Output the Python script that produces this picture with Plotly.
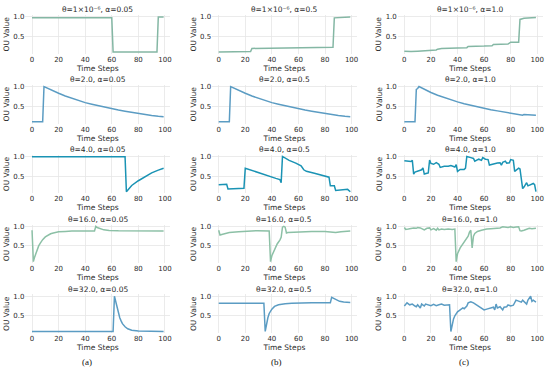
import plotly.graph_objects as go

# ---------------- data ----------------
THETA_LABELS = ["θ=1×10⁻⁶", "θ=2.0", "θ=4.0", "θ=16.0", "θ=32.0"]
ALPHA_LABELS = ["α=0.05", "α=0.5", "α=1.0"]
PANEL_LABELS = ["(a)", "(b)", "(c)"]
X_TICKS = [0, 20, 40, 60, 80, 100]
Y_TICKS = [0.5, 1.0]
Y_TICK_TEXT = ["0.5", "1.0"]
X_LABEL = "Time Steps"
Y_LABEL = "OU Value"

# row 1: theta = 1e-6
t_r1c1 = [0, 60, 61, 94, 95, 99]
v_r1c1 = [0.97, 0.97, 0.10, 0.10, 0.99, 0.99]
t_r1c2 = [0, 24, 25, 48, 49, 86, 87, 99]
v_r1c2 = [0.10, 0.11, 0.19, 0.20, 0.21, 0.22, 0.97, 0.99]
t_r1c3 = [0, 5, 10, 20, 24, 25, 27, 28, 40, 47, 48, 55, 60, 66, 67, 78, 79, 80, 86, 87, 90, 95, 99]
v_r1c3 = [0.12, 0.11, 0.12, 0.14, 0.15, 0.17, 0.18, 0.19, 0.20, 0.21, 0.24, 0.24, 0.25, 0.26, 0.29, 0.30, 0.33, 0.35, 0.35, 0.93, 0.96, 0.97, 0.98]

# row 2: theta = 2.0
t_r2c1 = [0, 8, 9, 15, 20, 25, 30, 35, 40, 45, 50, 55, 60, 65, 70, 75, 80, 85, 90, 95, 99]
v_r2c1 = [0.10, 0.10, 1.00, 0.90, 0.83, 0.76, 0.70, 0.64, 0.59, 0.55, 0.51, 0.47, 0.43, 0.40, 0.37, 0.34, 0.31, 0.28, 0.26, 0.24, 0.23]
t_r2c2 = [0, 8, 9, 15, 20, 25, 30, 35, 40, 45, 50, 55, 60, 65, 70, 75, 80, 85, 90, 95, 99]
v_r2c2 = [0.10, 0.10, 1.00, 0.90, 0.83, 0.76, 0.70, 0.64, 0.59, 0.55, 0.51, 0.47, 0.43, 0.40, 0.37, 0.34, 0.31, 0.28, 0.26, 0.24, 0.23]
t_r2c3 = [0, 8, 9, 10, 11, 15, 20, 25, 30, 35, 40, 45, 50, 55, 60, 65, 70, 75, 80, 85, 89, 90, 95, 99]
v_r2c3 = [0.10, 0.10, 0.93, 0.95, 1.00, 0.93, 0.85, 0.78, 0.72, 0.66, 0.61, 0.56, 0.52, 0.48, 0.45, 0.41, 0.38, 0.35, 0.32, 0.30, 0.27, 0.29, 0.28, 0.27]

# row 3: theta = 4.0
t_r3c1 = [0, 70, 71, 73, 75, 80, 85, 90, 95, 99]
v_r3c1 = [0.99, 0.99, 0.10, 0.19, 0.26, 0.38, 0.49, 0.58, 0.65, 0.70]
t_r3c2 = [0, 5, 6, 7, 12, 19, 20, 25, 30, 35, 38, 43, 46, 47, 48, 53, 58, 62, 64, 66, 72, 77, 80, 83, 84, 87, 88, 92, 97, 99]
v_r3c2 = [0.28, 0.28, 0.29, 0.17, 0.18, 0.19, 0.70, 0.64, 0.58, 0.53, 0.50, 0.44, 0.41, 0.33, 1.00, 0.90, 0.83, 0.76, 0.66, 0.62, 0.57, 0.52, 0.50, 0.47, 0.25, 0.25, 0.13, 0.14, 0.16, 0.10]
t_r3c3 = [0, 5, 6, 7, 8, 10, 13, 14, 15, 17, 18, 19, 20, 22, 24, 26, 27, 30, 33, 35, 38, 39, 40, 42, 45, 46, 47, 50, 52, 53, 56, 58, 59, 61, 63, 64, 66, 68, 70, 72, 73, 74, 76, 77, 79, 80, 82, 83, 84, 86, 87, 88, 89, 90, 92, 93, 95, 97, 98, 99]
v_r3c3 = [0.89, 0.87, 0.90, 0.55, 0.60, 0.63, 0.66, 0.71, 0.55, 0.57, 0.58, 0.91, 0.82, 0.80, 0.84, 0.80, 0.72, 0.75, 0.75, 0.77, 0.73, 0.79, 0.62, 0.67, 0.67, 0.70, 1.00, 0.97, 0.95, 0.88, 0.93, 0.90, 0.97, 0.93, 0.92, 0.78, 0.80, 0.83, 0.83, 0.84, 0.78, 0.85, 0.88, 0.83, 0.84, 0.92, 0.90, 0.62, 0.65, 0.70, 0.68, 0.45, 0.18, 0.22, 0.33, 0.25, 0.28, 0.31, 0.28, 0.10]

# row 4: theta = 16.0
t_r4c1 = [0, 1, 2, 3, 4, 5, 6, 7, 8, 10, 12, 14, 16, 18, 20, 25, 30, 47, 48, 49, 51, 54, 58, 65, 99]
v_r4c1 = [0.90, 0.10, 0.22, 0.33, 0.42, 0.50, 0.56, 0.62, 0.66, 0.73, 0.78, 0.81, 0.83, 0.85, 0.86, 0.87, 0.88, 0.88, 1.00, 0.97, 0.94, 0.91, 0.895, 0.885, 0.88]
t_r4c2 = [0, 1, 3, 8, 15, 25, 28, 29, 38, 39, 40, 42, 44, 46, 47, 48, 49, 50, 51, 52, 60, 70, 80, 85, 88, 92, 95, 99]
v_r4c2 = [0.90, 0.78, 0.80, 0.84, 0.86, 0.88, 0.88, 0.89, 0.88, 0.10, 0.25, 0.42, 0.55, 0.65, 0.72, 0.98, 1.00, 0.98, 0.83, 0.84, 0.86, 0.87, 0.87, 0.86, 0.84, 0.86, 0.87, 0.88]
t_r4c3 = [0, 1, 3, 5, 7, 9, 10, 12, 14, 15, 17, 19, 20, 22, 24, 25, 26, 28, 30, 33, 36, 38, 39, 40, 42, 44, 46, 48, 49, 50, 51, 52, 53, 55, 58, 60, 62, 65, 68, 70, 72, 74, 76, 78, 80, 82, 84, 86, 87, 88, 90, 92, 94, 96, 99]
v_r4c3 = [0.97, 0.92, 0.93, 0.94, 0.96, 0.95, 0.97, 0.96, 0.93, 0.91, 0.95, 0.96, 0.91, 0.94, 0.90, 0.95, 0.91, 0.93, 0.92, 0.93, 0.92, 0.93, 0.10, 0.30, 0.45, 0.55, 0.62, 0.75, 0.85, 0.90, 0.45, 0.75, 0.82, 0.87, 0.90, 0.92, 0.93, 0.94, 0.95, 0.97, 0.96, 0.99, 0.98, 0.97, 0.99, 0.97, 0.98, 0.99, 0.89, 0.88, 0.90, 0.92, 0.95, 0.94, 0.95]

# row 5: theta = 32.0
t_r5c1 = [0, 61, 62, 63, 64, 65, 66, 67, 68, 70, 72, 75, 80, 99]
v_r5c1 = [0.10, 0.10, 1.00, 0.85, 0.70, 0.55, 0.45, 0.37, 0.30, 0.22, 0.17, 0.13, 0.11, 0.10]
t_r5c2 = [0, 34, 35, 36, 37, 38, 40, 42, 45, 50, 55, 70, 84, 85, 87, 89, 91, 94, 96, 99]
v_r5c2 = [0.82, 0.82, 0.10, 0.30, 0.45, 0.56, 0.67, 0.74, 0.78, 0.81, 0.82, 0.83, 0.83, 0.97, 0.93, 0.90, 0.87, 0.85, 0.84, 0.84]
t_r5c3 = [0, 1, 2, 4, 6, 8, 9, 10, 12, 13, 15, 16, 18, 20, 22, 24, 26, 28, 30, 32, 34, 35, 36, 37, 38, 40, 42, 44, 45, 47, 48, 50, 52, 54, 56, 58, 60, 62, 64, 65, 67, 68, 69, 70, 72, 74, 75, 77, 78, 80, 82, 84, 86, 88, 89, 90, 92, 93, 95, 96, 97, 99]
v_r5c3 = [0.75, 0.80, 0.83, 0.78, 0.80, 0.75, 0.73, 0.78, 0.70, 0.80, 0.75, 0.80, 0.78, 0.76, 0.79, 0.76, 0.78, 0.80, 0.77, 0.77, 0.78, 0.10, 0.30, 0.42, 0.50, 0.60, 0.65, 0.70, 0.68, 0.75, 0.83, 0.86, 0.83, 0.78, 0.74, 0.70, 0.65, 0.67, 0.69, 0.70, 0.72, 0.65, 0.80, 0.70, 0.73, 0.65, 0.72, 0.73, 0.78, 0.75, 0.77, 0.90, 0.88, 0.85, 0.90, 0.87, 0.80, 0.90, 1.00, 0.87, 0.90, 0.85]

SERIES = [
    [(t_r1c1, v_r1c1), (t_r1c2, v_r1c2), (t_r1c3, v_r1c3)],
    [(t_r2c1, v_r2c1), (t_r2c2, v_r2c2), (t_r2c3, v_r2c3)],
    [(t_r3c1, v_r3c1), (t_r3c2, v_r3c2), (t_r3c3, v_r3c3)],
    [(t_r4c1, v_r4c1), (t_r4c2, v_r4c2), (t_r4c3, v_r4c3)],
    [(t_r5c1, v_r5c1), (t_r5c2, v_r5c2), (t_r5c3, v_r5c3)],
]

# ---------------- style / layout ----------------
ROW_COLORS = ["#84b7a4", "#5b9cc3", "#1a93b4", "#8cc0a6", "#5b9cc3"]
W, H = 550, 378
COL_LEFT = [25.5, 212.5, 398.5]
COL_W = 145.0
ROW_TOP0 = 13.0
ROW_STEP = 70.25
ROW_H = 39.0
FONT = "DejaVu Sans"
TXT = "#2a2a2a"
GRID = "#e6e6e6"
PANEL_X = [87, 277, 465]

fig = go.Figure()
layout = dict(
    width=W, height=H, margin=dict(l=0, r=0, t=0, b=0),
    paper_bgcolor="white", plot_bgcolor="white", showlegend=False,
    font=dict(family=FONT, color=TXT, size=7),
)
annotations = []

for r in range(5):
    top = ROW_TOP0 + r * ROW_STEP
    bot = top + ROW_H
    ydom = [1 - bot / H, 1 - top / H]
    for c in range(3):
        i = r * 3 + c + 1
        sfx = "" if i == 1 else str(i)
        xdom = [COL_LEFT[c] / W, (COL_LEFT[c] + COL_W) / W]
        t, v = SERIES[r][c]
        fig.add_trace(go.Scatter(x=t, y=v, mode="lines",
                                 line=dict(color=ROW_COLORS[r], width=1.5),
                                 xaxis="x" + sfx, yaxis="y" + sfx,
                                 hoverinfo="skip"))
        layout["xaxis" + sfx] = dict(
            domain=xdom, anchor="y" + sfx, range=[-4.95, 103.95],
            tickvals=X_TICKS, showgrid=True, gridcolor=GRID, gridwidth=0.8,
            zeroline=False, showline=False, ticks="",
            tickfont=dict(size=7, color=TXT, family=FONT),
            title=dict(text=X_LABEL, font=dict(size=7.5, color=TXT, family=FONT), standoff=1),
        )
        layout["yaxis" + sfx] = dict(
            domain=ydom, anchor="x" + sfx, range=[0.055, 1.045],
            tickvals=Y_TICKS, ticktext=Y_TICK_TEXT, showgrid=True,
            gridcolor=GRID, gridwidth=0.8, zeroline=False, showline=False,
            ticks="", tickfont=dict(size=7, color=TXT, family=FONT),
            title=dict(text=Y_LABEL, font=dict(size=7.5, color=TXT, family=FONT), standoff=2),
        )
        annotations.append(dict(
            text=f"{THETA_LABELS[r]}, {ALPHA_LABELS[c]}",
            x=(xdom[0] + xdom[1]) / 2, y=1 - (top - 5) / H,
            xref="paper", yref="paper", showarrow=False,
            xanchor="center", yanchor="middle",
            font=dict(size=7.5, color=TXT, family=FONT)))

for c in range(3):
    annotations.append(dict(
        text=PANEL_LABELS[c], x=PANEL_X[c] / W, y=1 - 362 / H,
        xref="paper", yref="paper", showarrow=False,
        xanchor="center", yanchor="middle",
        font=dict(size=9, color="#111111", family="Liberation Serif")))

layout["annotations"] = annotations
fig.update_layout(**layout)
fig.write_html("out.html", config={"displayModeBar": False, "staticPlot": True},
               post_script="document.body.style.margin='0';")
